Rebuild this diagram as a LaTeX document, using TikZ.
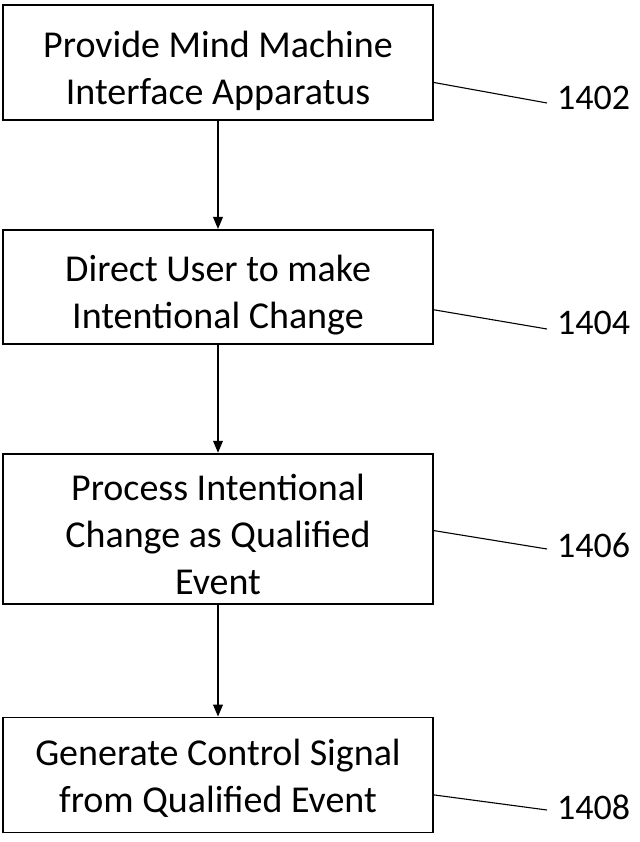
\documentclass[tikz,border=0pt]{standalone}
\usepackage{fontspec}
\setmainfont{Carlito}
\usepackage{tikz}
\usetikzlibrary{arrows}
\usetikzlibrary{positioning,calc}

% strut that pushes the first line of a box down a little
\newcommand{\textdrop}[1]{\rule{0pt}{#1}}

\tikzset{
	stepbox/.style={draw, line width=1.8pt, minimum width=430pt, align=center, inner sep=0pt, font=\fontsize{38}{47}\selectfont},
	reflabel/.style={font=\fontsize{36}{40}\selectfont, anchor=west, inner sep=0pt},
	leader/.style={line width=1.1pt}
}

\begin{document}
\begin{tikzpicture}[>=triangle 45, x=1pt, y=1pt]
			\useasboundingbox (0,0) rectangle (639,-842);
			\node[stepbox, minimum height=115pt] (s1) at (218,-62.5) {\textdrop{44pt}Provide Mind Machine\\Interface Apparatus};
			\node[stepbox, minimum height=114pt, below=108pt of s1] (s2) {\textdrop{42pt}Direct User to make\\Intentional Change};
			\node[stepbox, minimum height=150pt, below=108pt of s2] (s3) {\textdrop{38pt}Process Intentional\\Change as Qualified\\Event};
			\node[stepbox, minimum height=115pt, below=112pt of s3] (s4) {\textdrop{34pt}Generate Control Signal\\from Qualified Event};
			\draw[line width=1.8pt, ->] (s1) -- (s2);
			\draw[line width=1.8pt, ->] (s2) -- (s3);
			\draw[line width=1.8pt, ->] (s3) -- (s4);
			% reference numerals with their leader lines
			\node[reflabel] (n1) at (557,-98) {1402};
			\node[reflabel] (n2) at (557,-323) {1404};
			\node[reflabel] (n3) at (557,-545) {1406};
			\node[reflabel] (n4) at (557,-807) {1408};
			\draw[leader] ($(s1.east)+(0,-20)$) -- ($(n1.west)+(-10,-5)$);
			\draw[leader] ($(s2.east)+(0,-23)$) -- ($(n2.west)+(-10,-6)$);
			\draw[leader] ($(s3.east)+(0,-2)$) -- ($(n3.west)+(-10,-4)$);
			\draw[leader] ($(s4.east)+(0,-20)$) -- ($(n4.west)+(-10,-3)$);
\end{tikzpicture}
\end{document}
